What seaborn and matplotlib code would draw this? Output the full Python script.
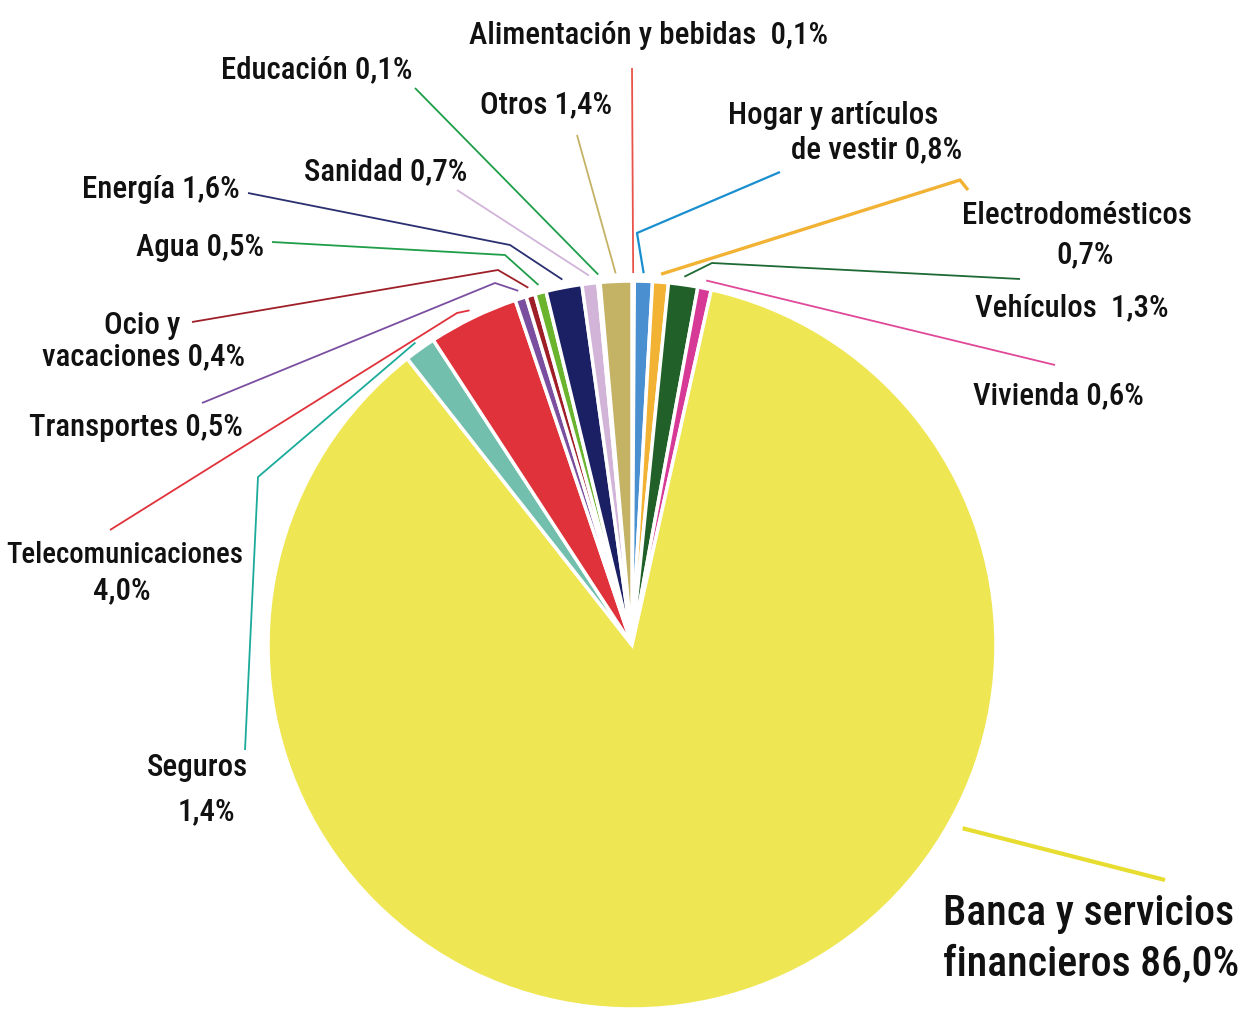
import numpy as np
import matplotlib
matplotlib.use("Agg")
import matplotlib.pyplot as plt
import seaborn as sns

# Reparto por sectores (%), en sentido horario desde las 12
sectores = [
    "Alimentación y bebidas", "Hogar y artículos de vestir", "Electrodomésticos",
    "Vehículos", "Vivienda", "Banca y servicios financieros", "Seguros",
    "Telecomunicaciones", "Transportes", "Ocio y vacaciones", "Agua", "Energía",
    "Sanidad", "Educación", "Otros",
]
valores = [0.1, 0.8, 0.7, 1.3, 0.6, 86.0, 1.4, 4.0, 0.5, 0.4, 0.5, 1.6, 0.7, 0.1, 1.4]
colores = [
    "#e8544a", "#4a90d0", "#f2b233", "#22602a", "#d63a96", "#efe653", "#72bfae",
    "#e0323a", "#7a4fa0", "#9e1f28", "#6ab42e", "#1b1f64", "#d2b4d8", "#2a9e48",
    "#c4b265",
]
colores_linea = [
    "#e8544a", "#1a8fd0", "#f2b233", "#1e6a34", "#e0489a", "#e6dd30", "#1aab9a",
    "#e0323a", "#7a4fa0", "#9e1f28", "#1e9e48", "#2a2f70", "#d2b4d8", "#1e9e48",
    "#c4b265",
]

W, H = 1243, 1009
CX, CY, R = 632, H - 645, 364

sns.set_style("white")
plt.rcParams["font.family"] = ["Roboto Condensed", "Liberation Sans Narrow", "Roboto", "DejaVu Sans"]

fig = plt.figure(figsize=(W / 100, H / 100), dpi=100)
ax = fig.add_axes([0, 0, 1, 1])

wedges, _ = ax.pie(
    valores, colors=colores, startangle=90, counterclock=False,
    center=(CX, CY), radius=R, frame=True,
    wedgeprops=dict(edgecolor="white", linewidth=2.5),
)
ax.set_xlim(0, W)
ax.set_ylim(0, H)
ax.set_aspect("equal")
ax.axis("off")


def img(p):
    return (p[0], H - p[1])


# etiquetas: (textos (texto, centro, alineación, ancho objetivo px), codo de la línea, grosor)
etiquetas = {
    "Alimentación y bebidas": ([("Alimentación y bebidas  0,1%", (649, 35), "center", 358)],
                               [(632, 68)], 1.3),
    "Hogar y artículos de vestir": ([("Hogar y artículos", (728, 115), "left", 208),
                                     ("de vestir 0,8%", (962, 150), "right", 180)],
                                    [(780, 172), (637, 233)], 1.6),
    "Electrodomésticos": ([("Electrodomésticos", (962, 215), "left", 226),
                           ("0,7%", (1085, 255), "center", 65)],
                          [(968, 190), (960, 180)], 2.4),
    "Vehículos": ([("Vehículos  1,3%", (975, 308), "left", 202)],
                  [(1020, 279), (712, 263)], 1.3),
    "Vivienda": ([("Vivienda 0,6%", (973, 396), "left", 184)],
                 [(1055, 365)], 1.3),
    "Banca y servicios financieros": ([("Banca y servicios", (943, 913), "left", 289),
                                       ("financieros 86,0%", (943, 965), "left", 297)],
                                      [(1165, 880)], 3.0),
    "Seguros": ([("Seguros", (248, 768), "right", 108), ("1,4%", (235, 812), "right", 65)],
                [(245, 750), (258, 477)], 1.3),
    "Telecomunicaciones": ([("Telecomunicaciones", (125, 555), "center", 233),
                            ("4,0%", (122, 591), "center", 57)],
                           [(110, 530), (457, 313)], 1.3),
    "Transportes": ([("Transportes 0,5%", (243, 428), "right", 213)],
                    [(202, 403), (495, 283)], 1.3),
    "Ocio y vacaciones": ([("Ocio y", (180, 325), "right", 75),
                           ("vacaciones 0,4%", (245, 357), "right", 199)],
                          [(192, 322), (498, 270)], 1.3),
    "Agua": ([("Agua 0,5%", (264, 247), "right", 128)], [(272, 242), (505, 255)], 1.3),
    "Energía": ([("Energía 1,6%", (240, 190), "right", 160)], [(248, 193), (510, 245)], 1.3),
    "Sanidad": ([("Sanidad 0,7%", (467, 172), "right", 165)], [(457, 190)], 1.3),
    "Educación": ([("Educación 0,1%", (413, 70), "right", 191)], [(415, 88)], 1.3),
    "Otros": ([("Otros 1,4%", (612, 105), "right", 134)], [(577, 135)], 1.3),
}

renderer = fig.canvas.get_renderer()
normales, grandes = [], []
for w, nombre, col in zip(wedges, sectores, colores_linea):
    textos, codo, lw = etiquetas[nombre]
    if nombre.startswith("Banca"):
        ang = np.deg2rad(-29)
        rr = R + 14
    else:
        ang = np.deg2rad((w.theta1 + w.theta2) / 2)
        rr = R + 8
    fin = (CX + rr * np.cos(ang), CY + rr * np.sin(ang))
    pts = [img(p) for p in codo] + [fin]
    xs, ys = zip(*pts)
    ax.plot(xs, ys, color=col, lw=lw, solid_capstyle="butt")
    for t, pos, ha, ancho in textos:
        x, y = img(pos)
        txt = ax.text(x, y, t, ha=ha, va="center", fontsize=30, weight="medium",
                      fontstretch="condensed", color="#111111")
        real = txt.get_window_extent(renderer).width
        (grandes if nombre.startswith("Banca") else normales).append((txt, 30 * ancho / real))

# un tamaño común por grupo, sin pasarse mucho del ancho original
for grupo in (normales, grandes):
    fs = float(np.median([f for _, f in grupo]))
    for txt, propio in grupo:
        txt.set_fontsize(min(fs, propio * 1.02))

fig.savefig("out.png", dpi=100, facecolor="white")
